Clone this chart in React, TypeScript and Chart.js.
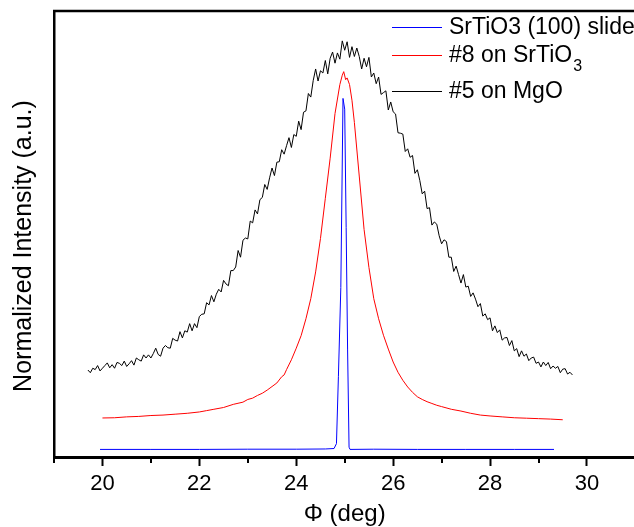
import React, { useEffect, useRef } from 'react';
import { Chart, registerables } from 'chart.js';

Chart.register(...registerables);

// ---------------- data ----------------
const xMajorTicks = [20, 22, 24, 26, 28, 30];
const xMinorTicks = [19, 21, 23, 25, 27, 29, 31];

const yTitle = 'Normalized Intensity (a.u.)';
const xTitle = 'Φ (deg)';
const seriesLabels = ['SrTiO3 (100) slide', '#8 on SrTiO_3', '#5 on MgO'];
const seriesColors = ['#0000ff', '#ff0000', '#000000'];

// SrTiO3 (100) slide substrate reference scan
const bluePhi = [19.95, 21.0, 22.0, 23.0, 24.0, 24.6, 24.78, 24.83, 24.87, 24.92, 24.965, 25.0, 25.03, 25.06, 25.09, 25.11, 25.6, 26.5, 27.5, 28.5, 29.32];
const blueInt = [1.7, 1.7, 1.7, 1.75, 1.75, 1.8, 1.9, 3.0, 18.0, 38.0, 80.4, 78.0, 51.5, 24.0, 2.2, 1.7, 1.75, 1.7, 1.7, 1.7, 1.7];

// film #8 on SrTiO3
const redPhi = [20.0, 20.25, 20.5, 20.75, 21.0, 21.25, 21.5, 21.75, 22.0, 22.15, 22.3, 22.5, 22.7, 22.9, 23.0, 23.1, 23.2, 23.3, 23.4, 23.5, 23.6, 23.7, 23.75, 23.8, 23.9, 24.0, 24.1, 24.2, 24.3, 24.4, 24.5, 24.6, 24.7, 24.8, 24.9, 24.95, 24.98, 25.02, 25.05, 25.1, 25.15, 25.2, 25.3, 25.4, 25.5, 25.6, 25.7, 25.8, 25.9, 26.0, 26.1, 26.2, 26.3, 26.4, 26.5, 26.6, 26.7, 26.8, 26.9, 27.0, 27.2, 27.4, 27.6, 27.8, 28.0, 28.25, 28.5, 28.75, 29.0, 29.25, 29.5];
const redInt = [8.75, 8.8, 9.0, 9.1, 9.3, 9.4, 9.6, 9.8, 10.1, 10.4, 10.7, 11.1, 11.8, 12.3, 12.9, 13.2, 13.8, 14.3, 15.0, 15.8, 16.6, 18.0, 18.4, 19.6, 21.8, 24.4, 27.2, 31.0, 35.5, 41.5, 49.0, 58.0, 67.0, 77.0, 83.5, 85.6, 86.4, 84.6, 85.0, 83.5, 80.0, 75.0, 63.0, 51.0, 42.5, 35.5, 31.0, 27.3, 24.2, 21.3, 19.0, 17.2, 15.7, 14.5, 13.5, 12.9, 12.4, 12.0, 11.6, 11.3, 10.7, 10.3, 9.8, 9.4, 9.2, 9.0, 8.8, 8.7, 8.6, 8.5, 8.35];

// film #5 on MgO (scan from 19.7 deg in 0.05 deg steps)
const blackPhiStart = 19.7;
const blackPhiStep = 0.05;
const blackInt = [
  19.5, 18.9, 19.9, 19.6, 20.5, 19.3, 19.9, 20.5, 21.1, 20.0,
  20.7, 19.9, 21.2, 21.0, 20.5, 21.5, 20.3, 20.9, 21.6, 20.6,
  22.2, 21.8, 21.5, 22.9, 22.2, 22.9, 22.2, 23.2, 24.4, 23.0,
  22.6, 24.4, 25.0, 24.5, 24.4, 26.6, 26.2, 26.0, 28.1, 26.7,
  28.3, 28.0, 29.9, 28.3, 29.9, 29.0, 31.5, 32.0, 32.1, 34.6,
  34.1, 36.2, 34.8, 36.5, 37.6, 37.0, 39.6, 38.8, 38.4, 41.8,
  41.8, 42.6, 46.3, 44.8, 48.6, 49.1, 48.9, 52.9, 52.5, 55.4,
  54.5, 57.7, 58.2, 61.1, 60.0, 62.6, 64.8, 63.1, 66.1, 66.2,
  68.9, 67.9, 69.8, 71.6, 69.4, 72.3, 71.9, 75.3, 73.4, 77.3,
  77.6, 81.5, 80.7, 84.4, 87.0, 84.3, 86.6, 86.1, 88.9, 85.9,
  89.4, 90.8, 88.3, 90.6, 89.2, 93.3, 91.2, 93.1, 89.6, 92.0,
  89.8, 91.7, 89.8, 87.0, 89.4, 87.5, 89.6, 85.2, 86.1, 83.7,
  85.2, 81.3, 81.7, 82.1, 77.8, 79.6, 77.4, 76.9, 72.7, 72.6,
  72.4, 68.5, 69.1, 67.2, 67.6, 63.6, 64.4, 62.0, 59.0, 59.6,
  55.7, 55.9, 52.0, 52.7, 52.2, 49.6, 47.8, 48.7, 48.3, 44.8,
  44.8, 41.6, 42.8, 40.9, 39.0, 40.9, 38.1, 38.3, 36.0, 36.8,
  35.4, 33.7, 34.4, 31.6, 32.1, 30.8, 31.2, 28.3, 29.4, 27.9,
  28.5, 26.2, 26.7, 26.8, 25.0, 26.1, 23.8, 24.3, 22.5, 23.8,
  22.6, 23.1, 21.6, 22.2, 22.4, 21.0, 21.3, 20.2, 21.3, 20.5,
  21.2, 19.8, 20.4, 19.9, 20.3, 18.9, 19.7, 19.8, 18.6, 19.0,
  18.4,
];

const FONT = "'Liberation Sans', Arial, sans-serif";

function pairs(xs: number[], ys: number[]) {
  return ys.map((y, i) => ({ x: xs[i], y }));
}

const framePlugin = {
  id: 'frameAndLegend',
  afterDraw(chart: any) {
    const { ctx, chartArea: a, scales } = chart;
    const xs = scales.x;
    ctx.save();
    // top and right frame lines
    ctx.strokeStyle = '#000';
    ctx.lineWidth = 2.5;
    ctx.beginPath();
    ctx.moveTo(a.left - 1, a.top);
    ctx.lineTo(a.right + 2, a.top);
    ctx.stroke();
    ctx.beginPath();
    ctx.moveTo(a.right, a.top);
    ctx.lineTo(a.right, a.bottom);
    ctx.stroke();
    // minor ticks
    ctx.lineWidth = 2;
    for (const v of xMinorTicks) {
      const px = Math.round(xs.getPixelForValue(v));
      ctx.beginPath();
      ctx.moveTo(px, a.bottom);
      ctx.lineTo(px, a.bottom + 6);
      ctx.stroke();
    }
    // y-axis title
    ctx.save();
    ctx.fillStyle = '#000';
    ctx.font = `25px ${FONT}`;
    ctx.textAlign = 'center';
    ctx.textBaseline = 'middle';
    ctx.translate(24, 246);
    ctx.rotate(-Math.PI / 2);
    ctx.fillText(yTitle, 0, 0);
    ctx.restore();
    // legend
    let y = 27;
    const lineX0 = 392;
    const lineX1 = 442;
    const textX = 449;
    seriesLabels.forEach((lab, i) => {
      ctx.strokeStyle = seriesColors[i];
      ctx.lineWidth = 1;
      ctx.beginPath();
      ctx.moveTo(lineX0, y + 0.5);
      ctx.lineTo(lineX1, y + 0.5);
      ctx.stroke();
      const [main, sub] = lab.split('_');
      ctx.fillStyle = '#000';
      ctx.textBaseline = 'middle';
      ctx.textAlign = 'left';
      ctx.font = `23px ${FONT}`;
      ctx.fillText(main, textX, y + 1);
      if (sub) {
        const w = ctx.measureText(main).width;
        ctx.font = `16px ${FONT}`;
        ctx.fillText(sub, textX + w + 1, y + 12);
        y += 36;
      } else {
        y += 28;
      }
    });
    ctx.restore();
  },
};

export default function App() {
  const ref = useRef<HTMLCanvasElement | null>(null);

  useEffect(() => {
    if (!ref.current) return;
    const blackData = blackInt.map((v, i) => ({ x: blackPhiStart + i * blackPhiStep, y: v }));
    const chart = new Chart(ref.current, {
      type: 'line',
      data: {
        datasets: [
          {
            label: seriesLabels[0],
            data: pairs(bluePhi, blueInt),
            borderColor: seriesColors[0],
            borderWidth: 1,
            pointRadius: 0,
            tension: 0,
          },
          {
            label: seriesLabels[1],
            data: pairs(redPhi, redInt),
            borderColor: seriesColors[1],
            borderWidth: 1,
            pointRadius: 0,
            tension: 0,
          },
          {
            label: seriesLabels[2],
            data: blackData,
            borderColor: seriesColors[2],
            borderWidth: 1,
            pointRadius: 0,
            tension: 0,
          },
        ],
      },
      options: {
        responsive: false,
        animation: false,
        events: [],
        layout: { padding: { left: 0, top: 11, right: 700 - 635.4, bottom: 0 } },
        plugins: { legend: { display: false }, tooltip: { enabled: false } },
        scales: {
          x: {
            type: 'linear',
            min: 19,
            max: 31,
            afterBuildTicks: (s: any) => {
              s.ticks = xMajorTicks.map((v) => ({ value: v }));
            },
            afterFit: (s: any) => {
              s.height = 70;
            },
            ticks: {
              font: { family: FONT, size: 22 },
              color: '#000',
              padding: 5,
              maxRotation: 0,
              autoSkip: false,
            },
            grid: {
              drawOnChartArea: false,
              drawTicks: true,
              tickLength: 9,
              tickWidth: 2,
              tickColor: '#000',
            },
            border: { color: '#000', width: 3 },
            title: {
              display: true,
              text: xTitle,
              color: '#000',
              font: { family: FONT, size: 24, lineHeight: 1 },
              padding: { top: 0, bottom: 1 },
            },
          },
          y: {
            type: 'linear',
            min: 0,
            max: 100,
            afterFit: (s: any) => {
              s.width = 54;
            },
            ticks: { display: false },
            grid: { display: false, drawTicks: false },
            border: { color: '#000', width: 2.5 },
            title: { display: false },
          },
        },
      },
      plugins: [framePlugin],
    });
    return () => chart.destroy();
  }, []);

  return (
    <div
      style={{
        position: 'fixed',
        left: 0,
        top: 0,
        width: 634,
        height: 527,
        overflow: 'hidden',
        background: '#fff',
      }}
    >
      <canvas ref={ref} width={700} height={527} style={{ display: 'block' }} />
    </div>
  );
}
